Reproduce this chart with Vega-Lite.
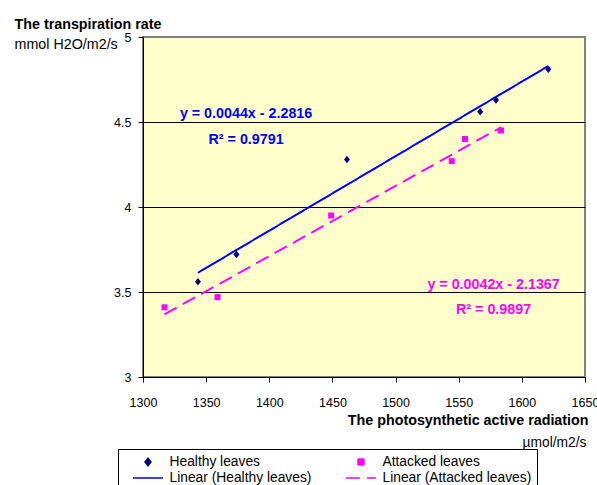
{
  "$schema": "https://vega.github.io/schema/vega-lite/v6.json",
  "width": 442,
  "height": 340,
  "autosize": {"type": "none"},
  "padding": {"left": 143, "top": 37, "right": 12, "bottom": 108},
  "background": "white",
  "config": {
    "font": "Liberation Sans",
    "view": {"fill": "#FFFFCC", "stroke": "#808080", "strokeWidth": 2},
    "axis": {
      "labelFont": "Liberation Sans",
      "labelFontSize": 12.5,
      "labelColor": "#000",
      "tickColor": "#000",
      "domainColor": "#000",
      "tickSize": 5,
      "titleFont": "Liberation Sans",
      "titleColor": "#000",
      "grid": false,
      "labelOverlap": false
    },
    "legend": {
      "labelFont": "Liberation Sans",
      "labelFontSize": 13.8,
      "labelColor": "#000"
    }
  },
  "datasets": {
    "pts": [
      {"x": 1343.5, "y": 3.56, "series": "Healthy leaves", "fit": "Linear (Healthy leaves)"},
      {"x": 1374, "y": 3.72, "series": "Healthy leaves", "fit": "Linear (Healthy leaves)"},
      {"x": 1461.5, "y": 4.28, "series": "Healthy leaves", "fit": "Linear (Healthy leaves)"},
      {"x": 1567, "y": 4.56, "series": "Healthy leaves", "fit": "Linear (Healthy leaves)"},
      {"x": 1579.5, "y": 4.63, "series": "Healthy leaves", "fit": "Linear (Healthy leaves)"},
      {"x": 1621, "y": 4.81, "series": "Healthy leaves", "fit": "Linear (Healthy leaves)"},
      {"x": 1317, "y": 3.41, "series": "Attacked leaves", "fit": "Linear (Attacked leaves)"},
      {"x": 1359, "y": 3.47, "series": "Attacked leaves", "fit": "Linear (Attacked leaves)"},
      {"x": 1449, "y": 3.95, "series": "Attacked leaves", "fit": "Linear (Attacked leaves)"},
      {"x": 1544.5, "y": 4.27, "series": "Attacked leaves", "fit": "Linear (Attacked leaves)"},
      {"x": 1555, "y": 4.40, "series": "Attacked leaves", "fit": "Linear (Attacked leaves)"},
      {"x": 1583.5, "y": 4.45, "series": "Attacked leaves", "fit": "Linear (Attacked leaves)"}
    ],
    "labels": [
      {"x": 1381.6, "y": 4.524, "label": "y = 0.0044x - 2.2816", "series": "Linear (Healthy leaves)"},
      {"x": 1381.6, "y": 4.369, "label": "R² = 0.9791", "series": "Linear (Healthy leaves)"},
      {"x": 1577.6, "y": 3.52, "label": "y = 0.0042x - 2.1367", "series": "Linear (Attacked leaves)"},
      {"x": 1577.6, "y": 3.369, "label": "R² = 0.9897", "series": "Linear (Attacked leaves)"}
    ]
  },
  "layer": [
    {
      "data": {"name": "pts"},
      "mark": {"type": "point", "filled": true, "size": 900, "opacity": 1},
      "encoding": {
        "x": {
          "field": "x", "type": "quantitative",
          "scale": {"domain": [1300, 1650], "nice": false, "zero": false},
          "axis": {
            "orient": "bottom",
            "values": [1300, 1350, 1400, 1450, 1500, 1550, 1600, 1650],
            "format": "d",
            "labelFlush": false,
            "labelPadding": 14,
            "title": "The photosynthetic active radiation",
            "titleFontWeight": "bold",
            "titleFontSize": 14.3,
            "titleAlign": "right",
            "titleBaseline": "alphabetic",
            "titleX": 445,
            "titleY": 47
          }
        },
        "y": {
          "field": "y", "type": "quantitative",
          "scale": {"domain": [3, 5], "nice": false, "zero": false},
          "axis": {
            "orient": "left",
            "values": [3, 3.5, 4, 4.5, 5],
            "format": "~g",
            "labelPadding": 7,
            "title": "The transpiration rate",
            "titleAngle": 0,
            "titleAlign": "left",
            "titleBaseline": "alphabetic",
            "titleX": -129,
            "titleY": -9,
            "titleFontWeight": "bold",
            "titleFontSize": 14.3
          }
        },
        "color": {
          "field": "series", "type": "nominal",
          "scale": {
            "domain": ["Healthy leaves", "Attacked leaves", "Linear (Healthy leaves)", "Linear (Attacked leaves)"],
            "range": ["#000080", "#FF00FF", "#0000FF", "#FF00FF"]
          },
          "legend": {
            "title": null,
            "orient": "none",
            "legendX": -25,
            "legendY": 412,
            "columns": 2,
            "direction": "horizontal",
            "padding": 5,
            "strokeColor": "#000",
            "fillColor": "white",
            "symbolSize": 900,
            "clipHeight": 16,
            "symbolOffset": 9,
            "labelOffset": 5.5,
            "columnPadding": 24,
            "rowPadding": 0,
            "encode": {
              "symbols": {
                "update": {
                  "shape": {"scale": "shape", "field": "value"},
                  "fill": {"signal": "indexof(['Healthy leaves','Attacked leaves'], datum.value) >= 0 ? scale('color', datum.value) : 'transparent'"},
                  "stroke": {"scale": "color", "field": "value"},
                  "strokeWidth": {"signal": "indexof(['Healthy leaves','Attacked leaves'], datum.value) >= 0 ? 0 : 2"},
                  "strokeDash": {"scale": "strokeDash", "field": "value"},
                  "opacity": {"value": 1}
                }
              }
            }
          }
        },
        "shape": {
          "field": "series", "type": "nominal",
          "scale": {
            "domain": ["Healthy leaves", "Attacked leaves", "Linear (Healthy leaves)", "Linear (Attacked leaves)"],
            "range": ["M0,-0.25L0.2,0L0,0.25L-0.2,0Z", "M-0.2,-0.2H0.2V0.2H-0.2Z", "stroke", "stroke"]
          },
          "legend": null
        }
      }
    },
    {
      "data": {"name": "pts"},
      "transform": [{"regression": "y", "on": "x", "groupby": ["fit"]}],
      "mark": {"type": "line", "strokeWidth": 2},
      "encoding": {
        "x": {
          "field": "x", "type": "quantitative",
          "axis": {
            "orient": "top",
            "labels": false, "ticks": false, "domain": false, "grid": false,
            "title": "µmol/m2/s",
            "titleAlign": "right",
            "titleBaseline": "alphabetic",
            "titleX": 443,
            "titleY": 409,
            "titleFontWeight": "normal",
            "titleFontSize": 13.8
          }
        },
        "y": {
          "field": "y", "type": "quantitative",
          "axis": {
            "orient": "right",
            "values": [3.5, 4, 4.5],
            "grid": true, "gridColor": "#000", "gridWidth": 1, "gridOpacity": 1,
            "labels": false, "ticks": false, "domain": false,
            "title": "mmol H2O/m2/s",
            "titleAngle": 0,
            "titleAlign": "left",
            "titleBaseline": "alphabetic",
            "titleX": -571,
            "titleY": 11,
            "titleFontWeight": "normal",
            "titleFontSize": 14.3
          }
        },
        "color": {"field": "fit", "type": "nominal"},
        "strokeDash": {
          "field": "fit", "type": "nominal",
          "scale": {
            "domain": ["Healthy leaves", "Attacked leaves", "Linear (Healthy leaves)", "Linear (Attacked leaves)"],
            "range": [[1, 0], [1, 0], [1, 0], [14, 7]]
          },
          "legend": null
        }
      }
    },
    {
      "data": {"name": "labels"},
      "mark": {"type": "text", "fontWeight": "bold", "fontSize": 14.3, "align": "center", "baseline": "alphabetic"},
      "encoding": {
        "x": {"field": "x", "type": "quantitative", "axis": null},
        "y": {"field": "y", "type": "quantitative", "axis": null},
        "text": {"field": "label"},
        "color": {"field": "series", "type": "nominal"}
      }
    }
  ],
  "resolve": {"axis": {"x": "independent", "y": "independent"}}
}
